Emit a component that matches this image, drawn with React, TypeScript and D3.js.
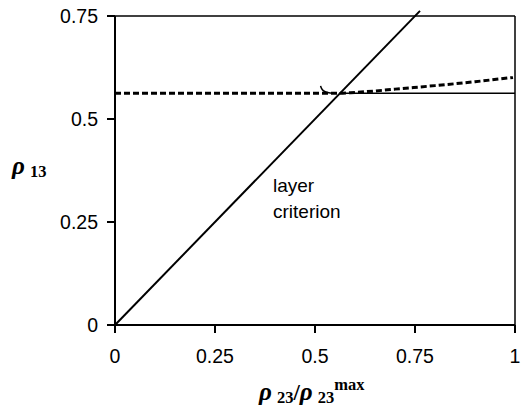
import React from "react";
import * as d3 from "d3";

const xTicks = [0, 0.25, 0.5, 0.75, 1];
const yTicks = [0, 0.25, 0.5, 0.75];
const xTickLabels = ["0", "0.25", "0.5", "0.75", "1"];
const yTickLabels = ["0", "0.25", "0.5", "0.75"];

// layer criterion: rho13 = rho23/rho23max
const diagX = [0, 0.7625];
const diagY = [0, 0.7625];

// solid horizontal branch
const flatX = [0.56, 1];
const flatY = [0.5625, 0.5625];

// dashed curve
const dashX = [0, 0.25, 0.5, 0.56, 0.6, 0.65, 0.7, 0.8, 0.9, 0.995];
const dashY = [0.5625, 0.5625, 0.5625, 0.5625, 0.5645, 0.568, 0.5725, 0.581, 0.5905, 0.601];

// small hook near 0.52
const hookX = [0.514, 0.516, 0.52, 0.527, 0.538, 0.552];
const hookY = [0.5805, 0.575, 0.5695, 0.5655, 0.5632, 0.5625];

const W = 523;
const H = 412;
const L = 115, R = 515, T = 16, B = 325;

export default function App() {
  const x = d3.scaleLinear().domain([0, 1]).range([L, R]);
  const y = d3.scaleLinear().domain([0, 0.75]).range([B, T]);
  const line = d3
    .line<[number, number]>()
    .x((d) => x(d[0]))
    .y((d) => y(d[1]));
  const curve = d3
    .line<[number, number]>()
    .x((d) => x(d[0]))
    .y((d) => y(d[1]))
    .curve(d3.curveMonotoneX);
  const zip = (a: number[], b: number[]) => a.map((v, i) => [v, b[i]] as [number, number]);
  const hookLine = d3
    .line<[number, number]>()
    .x((d) => x(d[0]))
    .y((d) => y(d[1]))
    .curve(d3.curveCatmullRom);

  const font = "Arial, 'Liberation Sans', sans-serif";
  const serif = "'Times New Roman', 'Liberation Serif', serif";

  return (
    <svg
      width={W}
      height={H}
      style={{ position: "absolute", left: 0, top: 0, background: "#fff" }}
    >
      <rect x={0} y={0} width={W} height={H} fill="#fff" />
      {/* frame */}
      <line x1={L} y1={T} x2={R} y2={T} stroke="#000" strokeWidth={1.5} />
      <line x1={R} y1={T} x2={R} y2={B} stroke="#000" strokeWidth={1.5} />
      <line x1={L} y1={B} x2={R} y2={B} stroke="#000" strokeWidth={2} />
      <line x1={L} y1={T} x2={L} y2={B + 8} stroke="#000" strokeWidth={2} />

      {/* y ticks */}
      {yTicks.map((t, i) => (
        <g key={"y" + i}>
          <line x1={L - 8} x2={L} y1={y(t)} y2={y(t)} stroke="#000" strokeWidth={2} />
          <text
            x={L - 17}
            y={y(t)}
            textAnchor="end"
            dominantBaseline="central"
            fontFamily={font}
            fontSize={19.5}
          >
            {yTickLabels[i]}
          </text>
        </g>
      ))}
      {/* x ticks */}
      {xTicks.map((t, i) => (
        <g key={"x" + i}>
          <line x1={x(t)} x2={x(t)} y1={B} y2={B + 8} stroke="#000" strokeWidth={2} />
          <text
            x={x(t)}
            y={363}
            textAnchor="middle"
            fontFamily={font}
            fontSize={19.5}
          >
            {xTickLabels[i]}
          </text>
        </g>
      ))}

      {/* data */}
      <path d={line(zip(flatX, flatY)) || ""} fill="none" stroke="#000" strokeWidth={1.5} />
      <path d={line(zip(diagX, diagY)) || ""} fill="none" stroke="#000" strokeWidth={2} />
      <path
        d={curve(zip(dashX, dashY)) || ""}
        fill="none"
        stroke="#000"
        strokeWidth={3}
        strokeDasharray="6,3"
      />
      <path d={hookLine(zip(hookX, hookY)) || ""} fill="none" stroke="#000" strokeWidth={1.5} />

      {/* annotation */}
      <text x={273} y={192} fontFamily={font} fontSize={19}>
        layer
      </text>
      <text x={273} y={218} fontFamily={font} fontSize={19}>
        criterion
      </text>

      {/* y label */}
      <text x={12} y={174} fontFamily={serif} fontWeight="bold">
        <tspan fontStyle="italic" fontSize={25}>ρ</tspan>
        <tspan fontSize={16.5} dx={5} dy={3}>13</tspan>
      </text>

      {/* x label */}
      <text x={259} y={400} fontFamily={serif} fontWeight="bold">
        <tspan fontStyle="italic" fontSize={25}>ρ</tspan>
        <tspan fontSize={16.5} dx={5} dy={3}>23</tspan>
        <tspan fontSize={23} dy={-3}>/</tspan>
        <tspan fontStyle="italic" fontSize={25}>ρ</tspan>
        <tspan fontSize={16.5} dx={5} dy={3}>23</tspan>
        <tspan fontSize={16.5} dy={-13}>max</tspan>
      </text>
    </svg>
  );
}
